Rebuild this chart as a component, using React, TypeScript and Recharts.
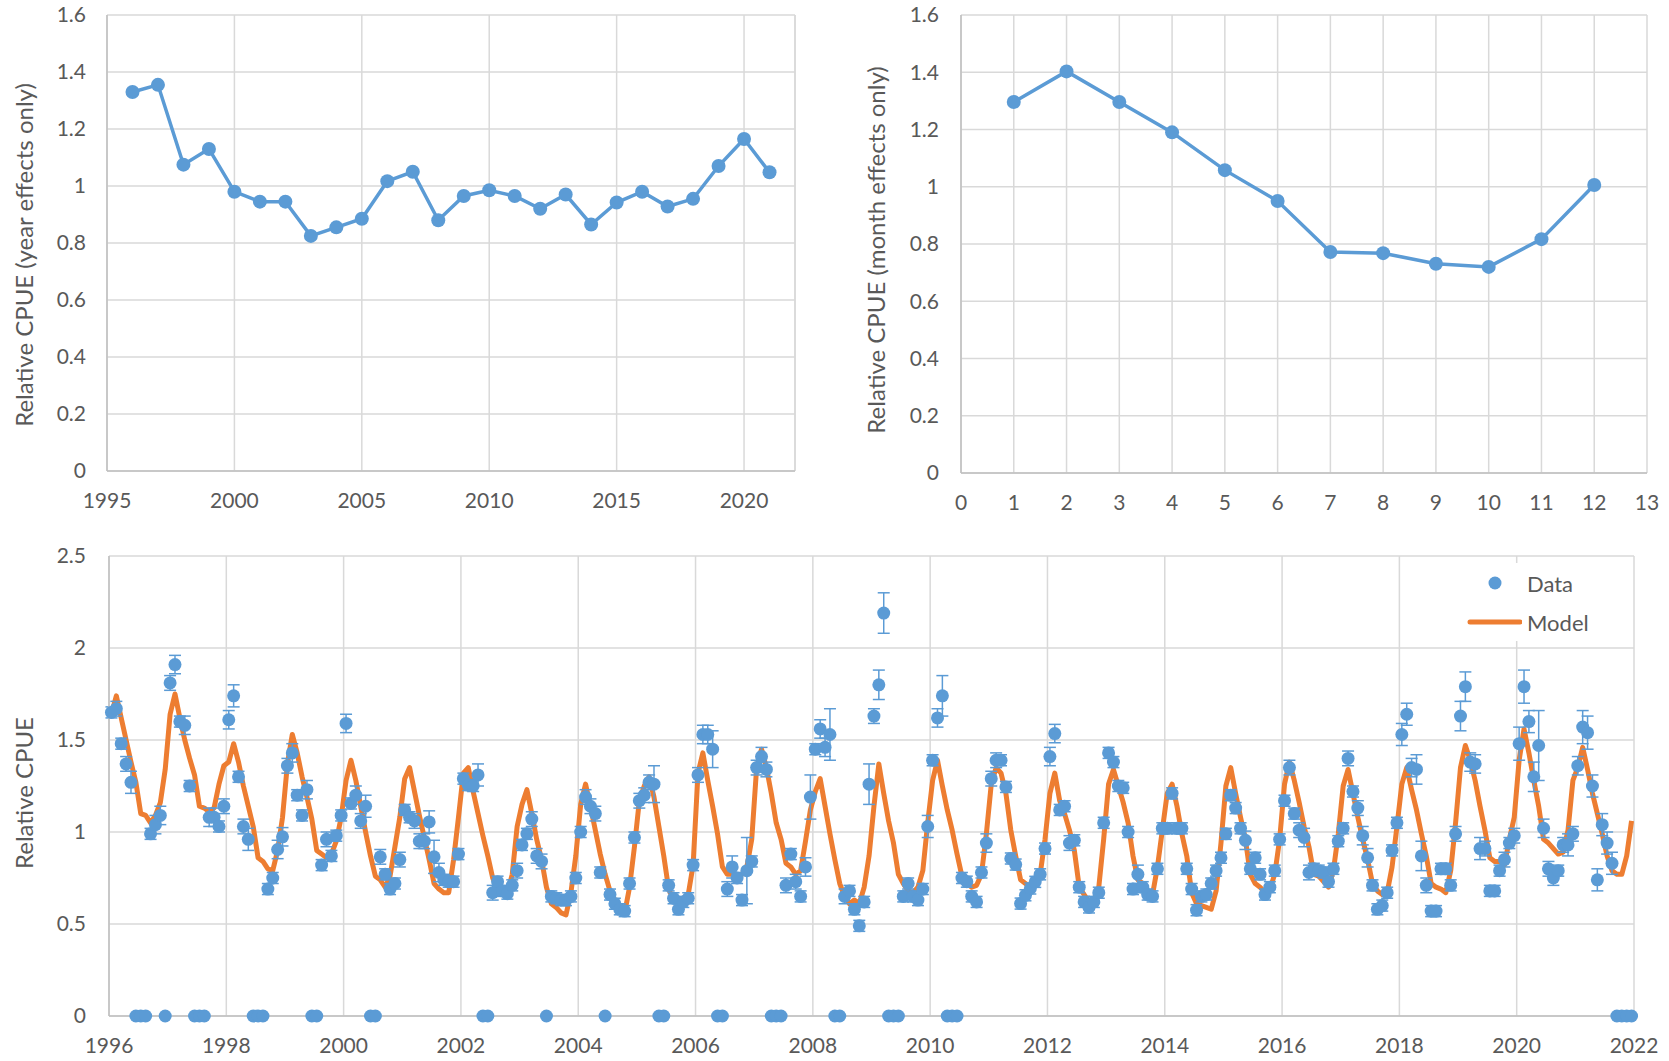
import React from 'react';
import {
  CartesianGrid,
  ComposedChart,
  ErrorBar,
  Line,
  LineChart,
  ReferenceLine,
  Scatter,
  XAxis,
  YAxis,
} from 'recharts';

const BLUE = '#5B9BD5';
const ORANGE = '#ED7D31';
const GRID = '#d9d9d9';
const AXIS = '#bfbfbf';
const TEXT = '#595959';
const FONT = 'Lato, "Open Sans", sans-serif';

// year effects (top left)
const effectYears = [
  1996, 1997, 1998, 1999, 2000, 2001, 2002, 2003, 2004, 2005, 2006, 2007, 2008,
  2009, 2010, 2011, 2012, 2013, 2014, 2015, 2016, 2017, 2018, 2019, 2020, 2021,
];
const yearEffects = [
  1.33, 1.355, 1.075, 1.13, 0.98, 0.945, 0.945, 0.825, 0.855, 0.885, 1.017, 1.05, 0.88,
  0.965, 0.985, 0.965, 0.92, 0.97, 0.865, 0.942, 0.98, 0.928, 0.955, 1.07, 1.165, 1.048,
];

// month effects (top right)
const effectMonths = [1, 2, 3, 4, 5, 6, 7, 8, 9, 10, 11, 12];
const monthEffects = [1.296, 1.403, 1.296, 1.19, 1.058, 0.95, 0.772, 0.768, 0.731, 0.72, 0.817, 1.006];

// monthly series (bottom), one row per year Jan..Dec, starting 1996
const FIRST_YEAR = 1996;
const observedCpue = [
  [1.65, 1.67, 1.48, 1.37, 1.27, 0, 0, 0, 0.99, 1.04, 1.09, 0],
  [1.81, 1.91, 1.6, 1.58, 1.25, 0, 0, 0, 1.08, 1.08, 1.03, 1.14],
  [1.61, 1.74, 1.3, 1.03, 0.96, 0, 0, 0, 0.69, 0.75, 0.905, 0.974],
  [1.36, 1.43, 1.2, 1.09, 1.23, 0, 0, 0.82, 0.96, 0.87, 0.98, 1.09],
  [1.59, 1.155, 1.2, 1.06, 1.14, 0, 0, 0.865, 0.77, 0.69, 0.72, 0.85],
  [1.12, 1.08, 1.06, 0.95, 0.95, 1.055, 0.865, 0.78, 0.74, 0.73, 0.73, 0.88],
  [1.29, 1.255, 1.25, 1.31, 0, 0, 0.67, 0.73, 0.68, 0.665, 0.71, 0.79],
  [0.93, 0.99, 1.07, 0.87, 0.84, 0, 0.65, 0.64, 0.63, 0.63, 0.65, 0.75],
  [1.0, 1.19, 1.14, 1.1, 0.78, 0, 0.66, 0.61, 0.58, 0.57, 0.72, 0.97],
  [1.17, 1.2, 1.27, 1.26, 0, 0, 0.71, 0.64, 0.58, 0.62, 0.64, 0.82],
  [1.31, 1.53, 1.53, 1.45, 0, 0, 0.69, 0.81, 0.75, 0.63, 0.79, 0.84],
  [1.35, 1.41, 1.34, 0, 0, 0, 0.71, 0.88, 0.73, 0.65, 0.81, 1.19],
  [1.45, 1.56, 1.46, 1.53, 0, 0, 0.65, 0.68, 0.58, 0.49, 0.62, 1.26],
  [1.63, 1.8, 2.19, 0, 0, 0, 0.65, 0.72, 0.65, 0.63, 0.69, 1.03],
  [1.39, 1.62, 1.74, 0, 0, 0, 0.75, 0.73, 0.65, 0.62, 0.78, 0.94],
  [1.29, 1.39, 1.39, 1.245, 0.856, 0.823, 0.611, 0.656, 0.693, 0.729, 0.77, 0.91],
  [1.41, 1.535, 1.12, 1.14, 0.94, 0.955, 0.7, 0.62, 0.59, 0.62, 0.67, 1.05],
  [1.43, 1.38, 1.25, 1.24, 1.0, 0.69, 0.77, 0.7, 0.66, 0.65, 0.8, 1.02],
  [1.02, 1.21, 1.02, 1.02, 0.8, 0.69, 0.575, 0.65, 0.66, 0.72, 0.79, 0.86],
  [0.99, 1.2, 1.13, 1.02, 0.955, 0.8, 0.86, 0.77, 0.66, 0.7, 0.79, 0.96],
  [1.17, 1.35, 1.1, 1.01, 0.97, 0.78, 0.8, 0.79, 0.78, 0.73, 0.8, 0.95],
  [1.02, 1.4, 1.22, 1.13, 0.98, 0.86, 0.71, 0.58, 0.6, 0.67, 0.9, 1.05],
  [1.53, 1.64, 1.35, 1.34, 0.87, 0.71, 0.57, 0.57, 0.8, 0.8, 0.71, 0.99],
  [1.63, 1.79, 1.38, 1.37, 0.91, 0.91, 0.68, 0.68, 0.79, 0.85, 0.94, 0.98],
  [1.48, 1.79, 1.6, 1.3, 1.47, 1.02, 0.8, 0.75, 0.79, 0.93, 0.93, 0.99],
  [1.36, 1.57, 1.54, 1.25, 0.74, 1.04, 0.94, 0.83, 0, 0, 0, 0],
];

const observedError = [
  [0.03, 0.04, 0.03, 0.04, 0.06, 0, 0, 0, 0.03, 0.05, 0.05, 0],
  [0.04, 0.05, 0.03, 0.05, 0.03, 0, 0, 0, 0.05, 0.05, 0.03, 0.04],
  [0.05, 0.06, 0.03, 0.04, 0.06, 0, 0, 0, 0.03, 0.03, 0.05, 0.05],
  [0.04, 0.05, 0.03, 0.03, 0.05, 0, 0, 0.03, 0.04, 0.03, 0.03, 0.03],
  [0.05, 0.03, 0.05, 0.04, 0.06, 0, 0, 0.04, 0.03, 0.03, 0.03, 0.04],
  [0.03, 0.03, 0.04, 0.04, 0.04, 0.06, 0.09, 0.05, 0.03, 0.03, 0.03, 0.03],
  [0.03, 0.03, 0.03, 0.06, 0, 0, 0.04, 0.03, 0.03, 0.03, 0.03, 0.04],
  [0.03, 0.03, 0.04, 0.04, 0.04, 0, 0.03, 0.03, 0.03, 0.03, 0.03, 0.03],
  [0.03, 0.04, 0.04, 0.04, 0.03, 0, 0.03, 0.03, 0.03, 0.03, 0.03, 0.03],
  [0.04, 0.04, 0.04, 0.1, 0, 0, 0.03, 0.03, 0.03, 0.03, 0.03, 0.03],
  [0.04, 0.05, 0.05, 0.1, 0, 0, 0.04, 0.06, 0.03, 0.03, 0.18, 0.03],
  [0.04, 0.05, 0.04, 0, 0, 0, 0.04, 0.03, 0.04, 0.03, 0.05, 0.12],
  [0.03, 0.05, 0.05, 0.14, 0, 0, 0.04, 0.03, 0.03, 0.03, 0.03, 0.11],
  [0.04, 0.08, 0.11, 0, 0, 0, 0.03, 0.03, 0.03, 0.03, 0.03, 0.06],
  [0.03, 0.05, 0.11, 0, 0, 0, 0.03, 0.03, 0.03, 0.03, 0.03, 0.05],
  [0.04, 0.04, 0.03, 0.03, 0.03, 0.03, 0.03, 0.03, 0.03, 0.03, 0.03, 0.03],
  [0.05, 0.05, 0.03, 0.03, 0.04, 0.03, 0.03, 0.03, 0.03, 0.03, 0.03, 0.03],
  [0.03, 0.03, 0.03, 0.03, 0.03, 0.03, 0.05, 0.03, 0.03, 0.03, 0.03, 0.03],
  [0.03, 0.03, 0.03, 0.03, 0.03, 0.03, 0.03, 0.03, 0.03, 0.03, 0.03, 0.03],
  [0.03, 0.03, 0.03, 0.03, 0.05, 0.03, 0.03, 0.03, 0.03, 0.03, 0.03, 0.03],
  [0.03, 0.04, 0.03, 0.04, 0.05, 0.04, 0.03, 0.03, 0.03, 0.03, 0.03, 0.03],
  [0.03, 0.04, 0.03, 0.04, 0.05, 0.05, 0.03, 0.03, 0.03, 0.03, 0.03, 0.03],
  [0.06, 0.06, 0.05, 0.08, 0.08, 0.04, 0.03, 0.03, 0.03, 0.03, 0.03, 0.04],
  [0.08, 0.08, 0.05, 0.05, 0.06, 0.04, 0.03, 0.03, 0.03, 0.04, 0.03, 0.04],
  [0.09, 0.09, 0.06, 0.08, 0.19, 0.05, 0.04, 0.04, 0.03, 0.04, 0.06, 0.04],
  [0.05, 0.09, 0.09, 0.06, 0.06, 0.06, 0.06, 0.06, 0, 0, 0, 0],
];

const modelCpue = [
  [1.64, 1.74, 1.62, 1.5, 1.38, 1.27, 1.1, 1.09, 1.05, 1.09, 1.16, 1.34],
  [1.64, 1.75, 1.62, 1.5, 1.4, 1.31, 1.14, 1.13, 1.11, 1.13, 1.26, 1.36],
  [1.38, 1.48, 1.38, 1.25, 1.14, 1.03, 0.86, 0.84, 0.8, 0.79, 0.9, 1.08],
  [1.37, 1.53, 1.43, 1.3, 1.19, 1.07, 0.9, 0.88, 0.86, 0.88, 0.95, 1.08],
  [1.28, 1.39, 1.28, 1.14, 1.0, 0.87, 0.76, 0.74, 0.7, 0.76, 0.92, 1.08],
  [1.29, 1.35, 1.22, 1.09, 0.97, 0.85, 0.72, 0.69, 0.67, 0.67, 0.85, 1.08],
  [1.32, 1.35, 1.22, 1.1, 0.98, 0.87, 0.75, 0.7, 0.7, 0.67, 0.77, 1.03],
  [1.15, 1.23, 1.1, 0.96, 0.85, 0.7, 0.61, 0.59, 0.56, 0.55, 0.67, 0.87],
  [1.15, 1.26, 1.14, 1.01, 0.88, 0.77, 0.68, 0.63, 0.58, 0.56, 0.7, 0.92],
  [1.17, 1.25, 1.3, 1.19, 1.03, 0.87, 0.69, 0.63, 0.63, 0.64, 0.66, 0.82],
  [1.32, 1.43, 1.28, 1.14, 0.99, 0.81, 0.77, 0.77, 0.76, 0.77, 0.81, 0.96],
  [1.35, 1.45, 1.35, 1.21, 1.05, 0.96, 0.83, 0.81, 0.77, 0.79, 0.95, 1.12],
  [1.22, 1.29, 1.14, 0.99, 0.85, 0.72, 0.65, 0.61, 0.63, 0.61, 0.7, 0.87],
  [1.14, 1.37, 1.21, 1.06, 0.94, 0.77, 0.72, 0.68, 0.67, 0.7, 0.79, 1.05],
  [1.28, 1.39, 1.25, 1.12, 1.01, 0.88, 0.76, 0.72, 0.7, 0.71, 0.77, 0.99],
  [1.26, 1.35, 1.32, 1.21, 1.01, 0.87, 0.74, 0.72, 0.7, 0.72, 0.77, 0.96],
  [1.21, 1.32, 1.17, 1.1, 1.01, 0.9, 0.7, 0.66, 0.62, 0.63, 0.7, 0.96],
  [1.26, 1.34, 1.25, 1.16, 1.05, 0.87, 0.74, 0.72, 0.68, 0.66, 0.81, 1.01],
  [1.21, 1.26, 1.14, 0.99, 0.87, 0.67, 0.61, 0.6, 0.59, 0.58, 0.68, 0.94],
  [1.25, 1.35, 1.21, 1.08, 0.96, 0.77, 0.72, 0.7, 0.67, 0.69, 0.77, 0.96],
  [1.26, 1.38, 1.28, 1.16, 1.03, 0.92, 0.77, 0.76, 0.73, 0.7, 0.79, 0.99],
  [1.25, 1.34, 1.21, 1.08, 0.96, 0.85, 0.72, 0.68, 0.66, 0.67, 0.81, 1.03],
  [1.26, 1.35, 1.23, 1.12, 0.99, 0.87, 0.72, 0.7, 0.69, 0.67, 0.79, 1.05],
  [1.35, 1.47, 1.39, 1.28, 1.14, 1.01, 0.86, 0.84, 0.84, 0.82, 0.96, 1.08],
  [1.39, 1.56, 1.43, 1.28, 1.14, 0.96, 0.94, 0.91, 0.88, 0.89, 1.01, 1.28],
  [1.35, 1.46, 1.34, 1.21, 1.1, 0.99, 0.87, 0.79, 0.77, 0.77, 0.87, 1.06],
];

const yearTicks = [1995, 2000, 2005, 2010, 2015, 2020];
const monthTicks = [0, 1, 2, 3, 4, 5, 6, 7, 8, 9, 10, 11, 12, 13];
const effectTicks = [0, 0.2, 0.4, 0.6, 0.8, 1, 1.2, 1.4, 1.6];
const seriesYearTicks = [1996, 1998, 2000, 2002, 2004, 2006, 2008, 2010, 2012, 2014, 2016, 2018, 2020, 2022];
const cpueTicks = [0, 0.5, 1, 1.5, 2, 2.5];

const yearRows = effectYears.map((year, i) => ({ year, value: yearEffects[i] }));
const monthRows = effectMonths.map((month, i) => ({ month, value: monthEffects[i] }));
const monthlyRows = observedCpue.flatMap((row, yi) =>
  row.map((value, mi) => ({
    t: FIRST_YEAR + yi + (mi + 0.5) / 12,
    data: value,
    err: observedError[yi][mi],
    model: modelCpue[yi][mi],
  })),
);

const tickStyle = { fontSize: 21, fill: TEXT, fontFamily: FONT };
const axisLineStyle = { stroke: AXIS, strokeWidth: 1.5 };

const DataDot = (props: any) => <circle cx={props.cx} cy={props.cy} r={6.5} fill={BLUE} />;

const AxisTitle: React.FC<{ text: string; x: number; y: number }> = ({ text, x, y }) => (
  <div
    style={{
      position: 'absolute',
      left: x,
      top: y,
      transform: 'translate(-50%, -50%) rotate(-90deg)',
      whiteSpace: 'nowrap',
      fontSize: 24,
      color: TEXT,
      fontFamily: FONT,
    }}
  >
    {text}
  </div>
);

const App: React.FC = () => {
  return (
    <div
      style={{
        position: 'absolute',
        left: 0,
        top: 0,
        width: 1669,
        height: 1061,
        background: '#fff',
        fontFamily: FONT,
      }}
    >
      {/* year effects */}
      <div style={{ position: 'absolute', left: 0, top: 0 }}>
        <LineChart width={812} height={530} data={yearRows} margin={{ top: 15, right: 17, bottom: 0, left: 0 }}>
          <CartesianGrid stroke={GRID} strokeWidth={1.5} />
          <ReferenceLine x={2022} stroke={GRID} strokeWidth={1.5} />
          <XAxis
            dataKey="year"
            type="number"
            domain={[1995, 2022]}
            ticks={yearTicks}
            interval={0}
            height={59}
            tickLine={false}
            tickSize={0}
            tickMargin={22}
            axisLine={axisLineStyle}
            tick={tickStyle}
          />
          <YAxis
            domain={[0, 1.6]}
            ticks={effectTicks}
            interval={0}
            width={107}
            tickLine={false}
            tickSize={0}
            tickMargin={21}
            axisLine={axisLineStyle}
            tick={tickStyle}
          />
          <Line
            dataKey="value"
            type="linear"
            stroke={BLUE}
            strokeWidth={3.5}
            dot={{ r: 7, fill: BLUE, stroke: BLUE, strokeWidth: 0 }}
            activeDot={false}
            isAnimationActive={false}
          />
        </LineChart>
      </div>
      <AxisTitle text="Relative CPUE (year effects only)" x={23} y={255} />

      {/* month effects */}
      <div style={{ position: 'absolute', left: 850, top: 0 }}>
        <LineChart width={819} height={530} data={monthRows} margin={{ top: 15, right: 22, bottom: 0, left: 0 }}>
          <CartesianGrid stroke={GRID} strokeWidth={1.5} />
          <XAxis
            dataKey="month"
            type="number"
            domain={[0, 13]}
            ticks={monthTicks}
            interval={0}
            height={57}
            tickLine={false}
            tickSize={0}
            tickMargin={22}
            axisLine={axisLineStyle}
            tick={tickStyle}
          />
          <YAxis
            domain={[0, 1.6]}
            ticks={effectTicks}
            interval={0}
            width={111}
            tickLine={false}
            tickSize={0}
            tickMargin={22}
            axisLine={axisLineStyle}
            tick={tickStyle}
          />
          <Line
            dataKey="value"
            type="linear"
            stroke={BLUE}
            strokeWidth={3.5}
            dot={{ r: 7, fill: BLUE, stroke: BLUE, strokeWidth: 0 }}
            activeDot={false}
            isAnimationActive={false}
          />
        </LineChart>
      </div>
      <AxisTitle text="Relative CPUE (month effects only)" x={875} y={250} />

      {/* monthly data vs model */}
      <div style={{ position: 'absolute', left: 0, top: 540 }}>
        <ComposedChart width={1669} height={521} data={monthlyRows} margin={{ top: 16, right: 35, bottom: 0, left: 0 }}>
          <CartesianGrid stroke={GRID} strokeWidth={1.5} />
          <XAxis
            dataKey="t"
            type="number"
            domain={[1996, 2022]}
            ticks={seriesYearTicks}
            interval={0}
            height={45}
            tickLine={false}
            tickSize={0}
            tickMargin={22}
            axisLine={axisLineStyle}
            tick={tickStyle}
          />
          <YAxis
            domain={[0, 2.5]}
            ticks={cpueTicks}
            interval={0}
            width={109}
            tickLine={false}
            tickSize={0}
            tickMargin={23}
            axisLine={axisLineStyle}
            tick={tickStyle}
          />
          <Line
            dataKey="model"
            type="linear"
            stroke={ORANGE}
            strokeWidth={5}
            strokeLinejoin="round"
            dot={false}
            activeDot={false}
            isAnimationActive={false}
          />
          <Scatter dataKey="data" fill={BLUE} shape={DataDot} isAnimationActive={false}>
            <ErrorBar dataKey="err" direction="y" width={6} stroke={BLUE} strokeWidth={1.5} />
          </Scatter>
        </ComposedChart>
      </div>
      <AxisTitle text="Relative CPUE" x={23} y={793} />

      {/* legend */}
      <div
        style={{
          position: 'absolute',
          left: 1462,
          top: 563,
          width: 140,
          height: 78,
          background: '#fff',
          color: TEXT,
          fontSize: 22,
          fontFamily: FONT,
        }}
      >
        <svg width={60} height={78} style={{ position: 'absolute', left: 0, top: 0 }}>
          <circle cx={33} cy={20} r={6.5} fill={BLUE} />
          <line x1={8} y1={59} x2={58} y2={59} stroke={ORANGE} strokeWidth={5} strokeLinecap="round" />
        </svg>
        <div style={{ position: 'absolute', left: 65, top: 20, transform: 'translateY(-50%)' }}>Data</div>
        <div style={{ position: 'absolute', left: 65, top: 59, transform: 'translateY(-50%)' }}>Model</div>
      </div>
    </div>
  );
};

export default App;
